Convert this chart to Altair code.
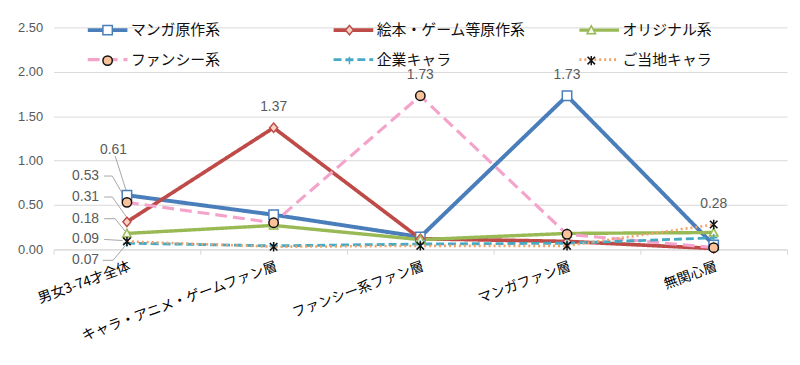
import json
import altair as alt
import pandas as pd

# ---------------- data ----------------
categories = ["男女3-74才全体", "キャラ・アニメ・ゲームファン層", "ファンシー系ファン層", "マンガファン層", "無関心層"]
series_names = ["マンガ原作系", "絵本・ゲーム等原作系", "オリジナル系", "ファンシー系", "企業キャラ", "ご当地キャラ"]

manga = [0.61, 0.39, 0.14, 1.73, 0.05]
ehon = [0.31, 1.37, 0.12, 0.09, 0.01]
original = [0.18, 0.27, 0.11, 0.18, 0.19]
fancy = [0.53, 0.30, 1.73, 0.17, 0.02]
kigyo = [0.07, 0.04, 0.06, 0.07, 0.13]
gotochi = [0.09, 0.03, 0.04, 0.04, 0.28]

y_ticks = [0, 0.5, 1.0, 1.5, 2.0, 2.5]

# points that carry a value label above them (series, category index)
labeled_points = [("マンガ原作系", 3), ("絵本・ゲーム等原作系", 1), ("ファンシー系", 2), ("ご当地キャラ", 4)]

# ---------------- styles ----------------
line_colors = ["#4a7ebb", "#be4b48", "#98b954", "#f4a3cb", "#46aac5", "#f2a266"]
line_dashes = [[1, 0], [1, 0], [1, 0], [12, 6], [8, 4], [2, 3]]
line_widths = [4, 2.6, 2, 4.5, 1.8, 1.6]

EXT = "M-4.2,0M4.2,0"
marker_shapes = [
    EXT + "M-1,-1H1V1H-1Z",
    EXT + "M0,-1L0.85,0L0,1L-0.85,0Z",
    EXT + "M0,-0.9L0.9,0.75H-0.9Z",
    EXT + "M-1,0A1,1 0 1,0 1,0A1,1 0 1,0 -1,0Z",
    EXT + "M-0.8,0H0.8M0,-0.8V0.8",
    EXT + "M-0.8,-0.8L0.8,0.8M-0.8,0.8L0.8,-0.8M0,-1V1",
]
marker_fill = ["#ffffff", "#f9d3c4", "#f4f8ec", "#f9c29a", "transparent", "transparent"]
marker_stroke = ["#4a7ebb", "#be4b48", "#98b954", "#111111", "#46aac5", "#111111"]

GRAY = "#595959"
GRID = "#d9d9d9"
JP = "Noto Sans CJK JP"
NUM = "Liberation Sans"

W, H = 791, 349          # whole chart (autosize fit)
BAND = 742 / len(categories)
ZW = "\u200b"  # keeps the marker legend separate from the line legend

# ---------------- tables ----------------
all_series = [manga, ehon, original, fancy, kigyo, gotochi]
rows = []
for s, arr in zip(series_names, all_series):
    for i, v in enumerate(arr):
        rows.append({"series": s, "series_pt": s + ZW, "idx": i, "value": v})
df = pd.DataFrame(rows)
series_pt_names = [s + ZW for s in series_names]

lab_rows = []
for s, i in labeled_points:
    v = all_series[series_names.index(s)][i]
    lab_rows.append({"idx": i, "value": v, "text": f"{v:.2f}"})
df_lab = pd.DataFrame(lab_rows)

# left-side callout layout (index units / data units)
callout_pos = {
    "マンガ原作系": (0.0, 1.116),
    "ファンシー系": (-0.19, 0.826),
    "絵本・ゲーム等原作系": (-0.19, 0.59),
    "オリジナル系": (-0.19, 0.346),
    "ご当地キャラ": (-0.19, 0.112),
    "企業キャラ": (-0.19, -0.123),
}
leader_paths = {
    "マンガ原作系": [(-0.08, 1.05), (-0.005, 0.66)],
    "ファンシー系": [(-0.155, 0.826), (-0.10, 0.826), (-0.01, 0.57)],
    "絵本・ゲーム等原作系": [(-0.155, 0.59), (-0.10, 0.59), (-0.005, 0.37)],
    "オリジナル系": [(-0.155, 0.346), (-0.08, 0.346), (-0.01, 0.2)],
    "ご当地キャラ": [(-0.155, 0.112), (-0.03, 0.10)],
    "企業キャラ": [(-0.165, -0.123), (-0.095, -0.123), (-0.01, 0.045)],
}
co_rows = []
for s, (x, y) in callout_pos.items():
    v = all_series[series_names.index(s)][0]
    co_rows.append({"x": x, "y": y, "text": f"{v:.2f}"})
df_co = pd.DataFrame(co_rows)

ld_rows = []
for s, pts in leader_paths.items():
    for k, (x, y) in enumerate(pts):
        ld_rows.append({"id": s, "k": k, "x": x, "y": y})
df_ld = pd.DataFrame(ld_rows)

# ---------------- scales / axes ----------------
x_scale = alt.Scale(domain=[-0.5, len(categories) - 0.5], nice=False, zero=False)
y_scale = alt.Scale(domain=[0, 2.5], nice=False, zero=True)

label_expr = ("datum.value < " + str(len(categories) - 0.6) + " ? "
              + json.dumps(categories, ensure_ascii=False)
              + "[round(datum.value + 0.5)] : ''")

x_axis = alt.Axis(
    values=[i - 0.5 for i in range(len(categories) + 1)],
    labelExpr=label_expr,
    labelOffset={"condition": {"test": f"datum.value > {len(categories) - 1}", "value": 0}, "value": BAND / 2},
    labelAngle=-20,
    labelAlign="right", labelBaseline="top", labelFont=JP, labelFontSize=14,
    labelColor="#000000", labelPadding=5, labelOverlap=False, labelFlush=False,
    labelLimit=600, grid=False, domainColor=GRID, tickColor=GRID, tickSize=5,
    title=None,
)
y_axis = alt.Axis(
    values=y_ticks, format=".2f", grid=True, gridColor=GRID, domain=False,
    ticks=False, labelPadding=11, labelColor=GRAY, labelFont=NUM,
    labelFontSize=13, title=None,
)

legend_common = dict(
    orient="none", legendX=34, legendY=-5, columns=3, direction="horizontal",
    title=None, labelFont=JP, labelFontSize=15, symbolOffset=13, labelOffset=16,
    columnPadding=46, rowPadding=14, gridAlign="all", labelLimit=400,
)
legendA = alt.Legend(symbolType="M-5,0H5", symbolSize=64, labelColor="#111111", **legend_common)
legendB = alt.Legend(symbolSize=90, symbolStrokeWidth=1.5, labelOpacity=0, **legend_common)

# ---------------- layers ----------------
lines = alt.Chart(df).mark_line(strokeJoin="round").encode(
    x=alt.X("idx:Q", scale=x_scale, axis=x_axis),
    y=alt.Y("value:Q", scale=y_scale, axis=y_axis),
    color=alt.Color("series:N", scale=alt.Scale(domain=series_names, range=line_colors), legend=legendA),
    strokeDash=alt.StrokeDash("series:N", scale=alt.Scale(domain=series_names, range=line_dashes), legend=legendA),
    strokeWidth=alt.StrokeWidth("series:N", scale=alt.Scale(domain=series_names, range=line_widths), legend=legendA),
    order="idx:Q",
)

points = alt.Chart(df).mark_point(size=90, strokeWidth=1.5, opacity=1).encode(
    x=alt.X("idx:Q", scale=x_scale),
    y=alt.Y("value:Q", scale=y_scale),
    shape=alt.Shape("series_pt:N", scale=alt.Scale(domain=series_pt_names, range=marker_shapes), legend=legendB),
    fill=alt.Fill("series_pt:N", scale=alt.Scale(domain=series_pt_names, range=marker_fill), legend=legendB),
    stroke=alt.Stroke("series_pt:N", scale=alt.Scale(domain=series_pt_names, range=marker_stroke), legend=legendB),
)

value_labels = alt.Chart(df_lab).mark_text(dy=-21, font=NUM, fontSize=14, color=GRAY).encode(
    x=alt.X("idx:Q", scale=x_scale),
    y=alt.Y("value:Q", scale=y_scale),
    text="text:N",
)

callouts = alt.Chart(df_co).mark_text(align="right", baseline="middle", font=NUM, fontSize=14, color=GRAY).encode(
    x=alt.X("x:Q", scale=x_scale),
    y=alt.Y("y:Q", scale=y_scale),
    text="text:N",
)

leaders = alt.Chart(df_ld).mark_line(color="#a6a6a6", strokeWidth=1).encode(
    x=alt.X("x:Q", scale=x_scale),
    y=alt.Y("y:Q", scale=y_scale),
    detail="id:N",
    order="k:Q",
)

chart = alt.layer(leaders, lines, points, value_labels, callouts).properties(
    width=W, height=H,
    autosize=alt.AutoSizeParams(type="fit", contains="padding"),
    padding={"left": 9, "top": 12, "right": 0, "bottom": 12},
    background="#ffffff",
).configure_view(stroke=None)

chart.save("out.html", embed_options={"renderer": "svg", "actions": False})
